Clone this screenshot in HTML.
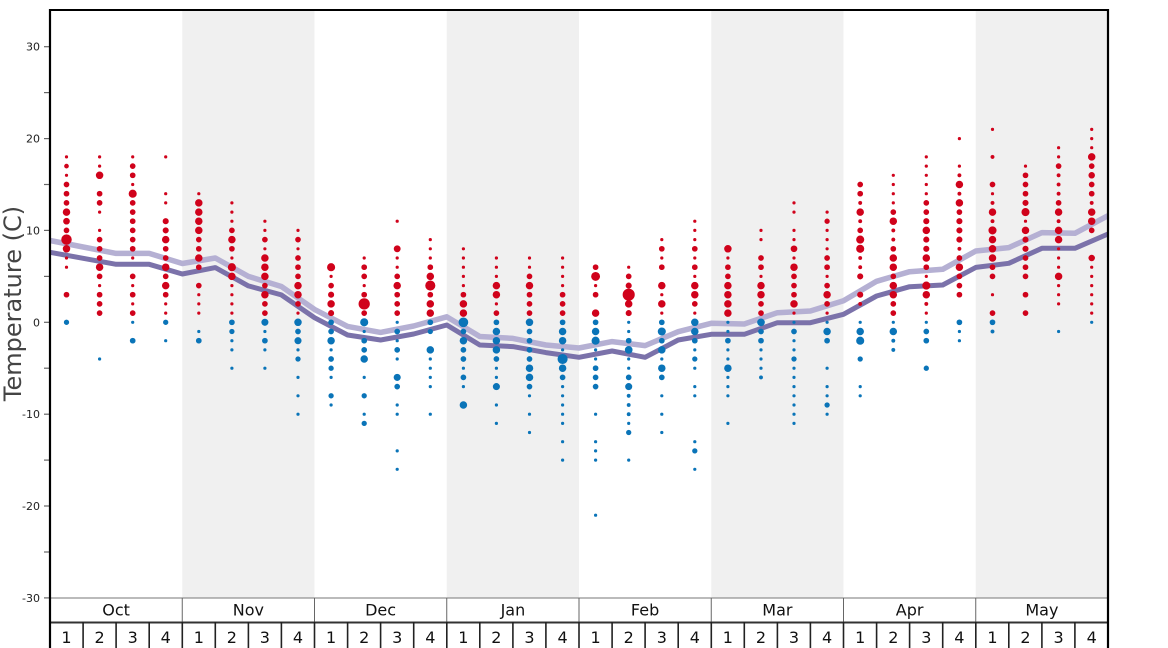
<!DOCTYPE html>
<html><head><meta charset="utf-8"><style>
html,body{margin:0;padding:0;background:#fff;}
svg{display:block;}
circle{fill:#d0021b;stroke:#d0021b;stroke-width:0.9;}
circle.b{fill:#0a74b8;stroke:#0a74b8;}
circle[r="1.6"]{stroke-width:0;}
circle[r="1.8"]{stroke-width:0.4;}
text{font-family:"DejaVu Sans","Liberation Sans",sans-serif;}
</style></head><body>
<svg width="1168" height="648" viewBox="0 0 1168 648" xmlns="http://www.w3.org/2000/svg">
<rect x="0" y="0" width="1168" height="648" fill="#fff"/>
<!-- shading -->
<g fill="#f0f0f0">
<rect x="182.25" y="10" width="132.25" height="588"/>
<rect x="446.75" y="10" width="132.25" height="588"/>
<rect x="711.25" y="10" width="132.25" height="588"/>
<rect x="975.75" y="10" width="132.25" height="588"/>
</g>
<!-- lines -->
<polyline fill="none" stroke="#b5b0d3" stroke-width="5.5" stroke-linejoin="round" points="50,240.5 83.1,247 116.1,253.4 149.2,253.4 182.3,263.5 215.3,258 248.4,276.4 281.4,286.5 314.5,309.4 347.6,326.4 380.6,332.4 413.7,326 446.8,316.8 479.8,336.5 512.9,338.4 545.9,345 579,348 612.1,341.6 645.1,345.6 678.2,331.7 711.3,323.3 744.3,324 777.4,312.7 810.4,311 843.5,300.7 876.6,281.3 909.6,271.7 942.7,269.3 975.8,251 1008.8,247.6 1041.9,232.6 1074.9,233.3 1108,215.7"/>
<polyline fill="none" stroke="#7b72aa" stroke-width="5" stroke-linejoin="round" points="50,252.3 83.1,258.3 116.1,264.3 149.2,264.3 182.3,274 215.3,267.6 248.4,285.9 281.4,294.9 314.5,317.7 347.6,335 380.6,340 413.7,334 446.8,325 479.8,345 512.9,346.6 545.9,352.6 579,357.3 612.1,351 645.1,357.3 678.2,340 711.3,334.3 744.3,334.3 777.4,322.7 810.4,322.7 843.5,314.3 876.6,296 909.6,286.7 942.7,285 975.8,267.4 1008.8,263.3 1041.9,248.3 1074.9,248.3 1108,234"/>

<!-- dots -->
<g transform="translate(66.5 0)"><circle cy="156.9" r="1.6"/><circle cy="166.1" r="1.9"/><circle cy="175.3" r="1.6"/><circle cy="184.5" r="2.4"/><circle cy="193.7" r="2.4"/><circle cy="202.9" r="2.4"/><circle cy="212.1" r="3.3"/><circle cy="221.2" r="2.9"/><circle cy="230.4" r="2.4"/><circle cy="239.6" r="4.8"/><circle cy="248.8" r="3.3"/><circle cy="258" r="1.6"/><circle cy="267.2" r="1.6"/><circle cy="294.7" r="2.4"/><circle class="b" cy="322.3" r="2.2"/></g>
<g transform="translate(99.6 0)"><circle cy="156.9" r="1.6"/><circle cy="166.1" r="1.6"/><circle cy="175.3" r="3.3"/><circle cy="193.7" r="2.4"/><circle cy="202.9" r="2.4"/><circle cy="212.1" r="1.6"/><circle cy="230.4" r="1.6"/><circle cy="239.6" r="2.4"/><circle cy="248.8" r="2.4"/><circle cy="258" r="2.4"/><circle cy="267.2" r="3.3"/><circle cy="276.4" r="2.4"/><circle cy="285.6" r="1.6"/><circle cy="294.7" r="2.4"/><circle cy="303.9" r="2.4"/><circle cy="313.1" r="2.4"/><circle class="b" cy="359" r="1.6"/></g>
<g transform="translate(132.7 0)"><circle cy="156.9" r="1.6"/><circle cy="166.1" r="2.4"/><circle cy="175.3" r="2.4"/><circle cy="184.5" r="1.6"/><circle cy="193.7" r="3.6"/><circle cy="202.9" r="2.4"/><circle cy="212.1" r="2.4"/><circle cy="221.2" r="2.4"/><circle cy="230.4" r="2.4"/><circle cy="239.6" r="2.4"/><circle cy="248.8" r="2.4"/><circle cy="258" r="1.6"/><circle cy="276.4" r="2.4"/><circle cy="285.6" r="1.6"/><circle cy="294.7" r="2.4"/><circle cy="303.9" r="1.6"/><circle cy="313.1" r="2.4"/><circle class="b" cy="322.3" r="1.6"/><circle class="b" cy="340.7" r="2.4"/></g>
<g transform="translate(165.7 0)"><circle cy="156.9" r="1.6"/><circle cy="193.7" r="1.6"/><circle cy="202.9" r="1.6"/><circle cy="221.2" r="2.6"/><circle cy="230.4" r="2.6"/><circle cy="239.6" r="3.3"/><circle cy="248.8" r="2.4"/><circle cy="258" r="2.4"/><circle cy="267.2" r="3.3"/><circle cy="276.4" r="2.4"/><circle cy="285.6" r="3.3"/><circle cy="294.7" r="2.4"/><circle cy="303.9" r="1.6"/><circle cy="313.1" r="1.6"/><circle class="b" cy="322.3" r="2.2"/><circle class="b" cy="340.7" r="1.6"/></g>
<g transform="translate(198.8 0)"><circle cy="193.7" r="1.6"/><circle cy="202.9" r="3.3"/><circle cy="212.1" r="3.3"/><circle cy="221.2" r="3.3"/><circle cy="230.4" r="3.3"/><circle cy="239.6" r="2.4"/><circle cy="248.8" r="2.4"/><circle cy="258" r="3.3"/><circle cy="267.2" r="2.4"/><circle cy="285.6" r="2.4"/><circle cy="294.7" r="1.6"/><circle cy="303.9" r="1.6"/><circle cy="313.1" r="1.6"/><circle class="b" cy="331.5" r="1.6"/><circle class="b" cy="340.7" r="2.4"/></g>
<g transform="translate(231.9 0)"><circle cy="202.9" r="1.6"/><circle cy="212.1" r="1.6"/><circle cy="221.2" r="1.6"/><circle cy="230.4" r="2.4"/><circle cy="239.6" r="3.3"/><circle cy="248.8" r="2.4"/><circle cy="258" r="1.6"/><circle cy="267.2" r="3.6"/><circle cy="276.4" r="3.3"/><circle cy="285.6" r="1.6"/><circle cy="294.7" r="1.6"/><circle cy="303.9" r="1.6"/><circle cy="313.1" r="1.6"/><circle class="b" cy="322.3" r="2.4"/><circle class="b" cy="331.5" r="2.2"/><circle class="b" cy="340.7" r="1.6"/><circle class="b" cy="349.9" r="1.6"/><circle class="b" cy="368.2" r="1.6"/></g>
<g transform="translate(264.9 0)"><circle cy="221.2" r="1.6"/><circle cy="230.4" r="1.6"/><circle cy="239.6" r="2.4"/><circle cy="248.8" r="1.6"/><circle cy="258" r="3.3"/><circle cy="267.2" r="3.3"/><circle cy="276.4" r="3.3"/><circle cy="285.6" r="2.4"/><circle cy="294.7" r="3.3"/><circle cy="303.9" r="2.4"/><circle cy="313.1" r="2.4"/><circle class="b" cy="322.3" r="3.1"/><circle class="b" cy="331.5" r="1.6"/><circle class="b" cy="340.7" r="2.4"/><circle class="b" cy="349.9" r="1.6"/><circle class="b" cy="368.2" r="1.6"/></g>
<g transform="translate(298 0)"><circle cy="230.4" r="1.6"/><circle cy="239.6" r="2.4"/><circle cy="248.8" r="1.6"/><circle cy="258" r="2.4"/><circle cy="267.2" r="2.4"/><circle cy="276.4" r="2.4"/><circle cy="285.6" r="3.3"/><circle cy="294.7" r="3.3"/><circle cy="303.9" r="2.4"/><circle cy="313.1" r="1.6"/><circle class="b" cy="322.3" r="3.3"/><circle class="b" cy="331.5" r="2.4"/><circle class="b" cy="340.7" r="3.1"/><circle class="b" cy="349.9" r="1.6"/><circle class="b" cy="359" r="2.2"/><circle class="b" cy="377.4" r="1.6"/><circle class="b" cy="395.8" r="1.6"/><circle class="b" cy="414.2" r="1.6"/></g>
<g transform="translate(331.1 0)"><circle cy="267.2" r="3.6"/><circle cy="276.4" r="1.6"/><circle cy="285.6" r="2.4"/><circle cy="294.7" r="2.6"/><circle cy="303.9" r="3.3"/><circle cy="313.1" r="2.6"/><circle class="b" cy="322.3" r="2.4"/><circle class="b" cy="331.5" r="2.4"/><circle class="b" cy="340.7" r="3.3"/><circle class="b" cy="349.9" r="1.6"/><circle class="b" cy="359" r="2.4"/><circle class="b" cy="368.2" r="2.2"/><circle class="b" cy="377.4" r="1.6"/><circle class="b" cy="395.8" r="2.2"/><circle class="b" cy="405" r="1.6"/></g>
<g transform="translate(364.2 0)"><circle cy="258" r="1.6"/><circle cy="267.2" r="2.4"/><circle cy="276.4" r="2.4"/><circle cy="285.6" r="1.6"/><circle cy="294.7" r="2.4"/><circle cy="303.9" r="5.2"/><circle cy="313.1" r="2.4"/><circle class="b" cy="322.3" r="3.6"/><circle class="b" cy="331.5" r="1.6"/><circle class="b" cy="340.7" r="2.4"/><circle class="b" cy="349.9" r="2.4"/><circle class="b" cy="359" r="3.3"/><circle class="b" cy="377.4" r="1.6"/><circle class="b" cy="395.8" r="2.2"/><circle class="b" cy="414.2" r="1.6"/><circle class="b" cy="423.4" r="2.2"/></g>
<g transform="translate(397.2 0)"><circle cy="221.2" r="1.6"/><circle cy="248.8" r="3"/><circle cy="258" r="1.6"/><circle cy="267.2" r="1.6"/><circle cy="276.4" r="2.4"/><circle cy="285.6" r="3.3"/><circle cy="294.7" r="2.4"/><circle cy="303.9" r="2.4"/><circle cy="313.1" r="2.4"/><circle class="b" cy="322.3" r="1.6"/><circle class="b" cy="331.5" r="2.4"/><circle class="b" cy="340.7" r="1.6"/><circle class="b" cy="349.9" r="2.4"/><circle class="b" cy="359" r="1.6"/><circle class="b" cy="377.4" r="3.1"/><circle class="b" cy="386.6" r="2.4"/><circle class="b" cy="405" r="1.6"/><circle class="b" cy="414.2" r="1.6"/><circle class="b" cy="450.9" r="1.6"/><circle class="b" cy="469.3" r="1.6"/></g>
<g transform="translate(430.3 0)"><circle cy="239.6" r="1.6"/><circle cy="248.8" r="1.6"/><circle cy="258" r="1.6"/><circle cy="267.2" r="2.4"/><circle cy="276.4" r="3.3"/><circle cy="285.6" r="4.6"/><circle cy="294.7" r="2.4"/><circle cy="303.9" r="3.3"/><circle cy="313.1" r="3.3"/><circle class="b" cy="322.3" r="2.4"/><circle class="b" cy="331.5" r="2.2"/><circle class="b" cy="349.9" r="3.3"/><circle class="b" cy="359" r="1.6"/><circle class="b" cy="368.2" r="1.6"/><circle class="b" cy="377.4" r="1.6"/><circle class="b" cy="386.6" r="1.6"/><circle class="b" cy="414.2" r="1.6"/></g>
<g transform="translate(463.4 0)"><circle cy="248.8" r="1.6"/><circle cy="258" r="1.6"/><circle cy="267.2" r="1.6"/><circle cy="276.4" r="1.6"/><circle cy="285.6" r="1.6"/><circle cy="294.7" r="2.4"/><circle cy="303.9" r="3.3"/><circle cy="313.1" r="3.3"/><circle class="b" cy="322.3" r="4.4"/><circle class="b" cy="331.5" r="2.4"/><circle class="b" cy="340.7" r="3.3"/><circle class="b" cy="349.9" r="2.4"/><circle class="b" cy="359" r="2.4"/><circle class="b" cy="368.2" r="1.6"/><circle class="b" cy="377.4" r="2.4"/><circle class="b" cy="386.6" r="1.6"/><circle class="b" cy="405" r="3.3"/></g>
<g transform="translate(496.4 0)"><circle cy="258" r="1.6"/><circle cy="267.2" r="1.6"/><circle cy="276.4" r="1.6"/><circle cy="285.6" r="3.3"/><circle cy="294.7" r="3.3"/><circle cy="303.9" r="1.6"/><circle cy="313.1" r="2.4"/><circle class="b" cy="322.3" r="2.4"/><circle class="b" cy="331.5" r="3.3"/><circle class="b" cy="340.7" r="3.3"/><circle class="b" cy="349.9" r="3.3"/><circle class="b" cy="359" r="2.4"/><circle class="b" cy="368.2" r="1.6"/><circle class="b" cy="377.4" r="1.6"/><circle class="b" cy="386.6" r="3.1"/><circle class="b" cy="405" r="1.6"/><circle class="b" cy="423.4" r="1.6"/></g>
<g transform="translate(529.5 0)"><circle cy="258" r="1.6"/><circle cy="267.2" r="1.6"/><circle cy="276.4" r="2.4"/><circle cy="285.6" r="3.3"/><circle cy="294.7" r="2.4"/><circle cy="303.9" r="2.4"/><circle cy="313.1" r="2.4"/><circle class="b" cy="322.3" r="3.3"/><circle class="b" cy="331.5" r="2.4"/><circle class="b" cy="340.7" r="2.4"/><circle class="b" cy="349.9" r="2.4"/><circle class="b" cy="359" r="2.4"/><circle class="b" cy="368.2" r="3.3"/><circle class="b" cy="377.4" r="3.3"/><circle class="b" cy="386.6" r="2.4"/><circle class="b" cy="395.8" r="1.6"/><circle class="b" cy="414.2" r="1.6"/><circle class="b" cy="432.5" r="1.6"/></g>
<g transform="translate(562.6 0)"><circle cy="258" r="1.6"/><circle cy="267.2" r="1.6"/><circle cy="276.4" r="1.6"/><circle cy="285.6" r="1.6"/><circle cy="294.7" r="2.4"/><circle cy="303.9" r="2.4"/><circle cy="313.1" r="2.4"/><circle class="b" cy="322.3" r="2.4"/><circle class="b" cy="331.5" r="3.3"/><circle class="b" cy="340.7" r="3.3"/><circle class="b" cy="349.9" r="1.6"/><circle class="b" cy="359" r="4.6"/><circle class="b" cy="368.2" r="3.3"/><circle class="b" cy="377.4" r="2.4"/><circle class="b" cy="386.6" r="1.6"/><circle class="b" cy="395.8" r="1.6"/><circle class="b" cy="405" r="1.6"/><circle class="b" cy="414.2" r="1.6"/><circle class="b" cy="423.4" r="1.6"/><circle class="b" cy="441.7" r="1.6"/><circle class="b" cy="460.1" r="1.6"/></g>
<g transform="translate(595.6 0)"><circle cy="267.2" r="2.4"/><circle cy="276.4" r="4"/><circle cy="285.6" r="1.6"/><circle cy="294.7" r="2.4"/><circle cy="313.1" r="3.3"/><circle class="b" cy="322.3" r="2.4"/><circle class="b" cy="331.5" r="3.3"/><circle class="b" cy="340.7" r="3.6"/><circle class="b" cy="349.9" r="1.6"/><circle class="b" cy="359" r="1.6"/><circle class="b" cy="368.2" r="2.4"/><circle class="b" cy="377.4" r="2.4"/><circle class="b" cy="386.6" r="2.4"/><circle class="b" cy="414.2" r="1.6"/><circle class="b" cy="441.7" r="1.6"/><circle class="b" cy="450.9" r="1.6"/><circle class="b" cy="460.1" r="1.6"/><circle class="b" cy="515.2" r="1.6"/></g>
<g transform="translate(628.7 0)"><circle cy="267.2" r="1.6"/><circle cy="276.4" r="2.4"/><circle cy="285.6" r="2.6"/><circle cy="294.7" r="5.6"/><circle cy="303.9" r="3.3"/><circle cy="313.1" r="2.6"/><circle class="b" cy="322.3" r="1.6"/><circle class="b" cy="331.5" r="1.6"/><circle class="b" cy="340.7" r="2.4"/><circle class="b" cy="349.9" r="3.4"/><circle class="b" cy="359" r="1.6"/><circle class="b" cy="368.2" r="1.6"/><circle class="b" cy="377.4" r="2.4"/><circle class="b" cy="386.6" r="3.1"/><circle class="b" cy="395.8" r="1.8"/><circle class="b" cy="405" r="1.8"/><circle class="b" cy="414.2" r="1.8"/><circle class="b" cy="423.4" r="1.6"/><circle class="b" cy="432.5" r="2.2"/><circle class="b" cy="460.1" r="1.6"/></g>
<g transform="translate(661.8 0)"><circle cy="239.6" r="1.6"/><circle cy="248.8" r="2.4"/><circle cy="258" r="1.6"/><circle cy="267.2" r="2.4"/><circle cy="285.6" r="3.3"/><circle cy="294.7" r="1.6"/><circle cy="303.9" r="3.3"/><circle cy="313.1" r="1.6"/><circle class="b" cy="322.3" r="2.4"/><circle class="b" cy="331.5" r="3.6"/><circle class="b" cy="340.7" r="2.4"/><circle class="b" cy="349.9" r="3.3"/><circle class="b" cy="359" r="1.6"/><circle class="b" cy="368.2" r="3.3"/><circle class="b" cy="377.4" r="2.4"/><circle class="b" cy="395.8" r="1.6"/><circle class="b" cy="414.2" r="1.6"/><circle class="b" cy="432.5" r="1.6"/></g>
<g transform="translate(694.8 0)"><circle cy="221.2" r="1.6"/><circle cy="230.4" r="1.6"/><circle cy="239.6" r="1.6"/><circle cy="248.8" r="2.4"/><circle cy="258" r="1.6"/><circle cy="267.2" r="2.4"/><circle cy="276.4" r="1.6"/><circle cy="285.6" r="3.3"/><circle cy="294.7" r="3.3"/><circle cy="303.9" r="2.4"/><circle cy="313.1" r="1.6"/><circle class="b" cy="322.3" r="3.3"/><circle class="b" cy="331.5" r="3.3"/><circle class="b" cy="340.7" r="2.4"/><circle class="b" cy="349.9" r="1.6"/><circle class="b" cy="359" r="2.2"/><circle class="b" cy="368.2" r="1.6"/><circle class="b" cy="386.6" r="1.6"/><circle class="b" cy="395.8" r="1.6"/><circle class="b" cy="441.7" r="1.6"/><circle class="b" cy="450.9" r="2.2"/><circle class="b" cy="469.3" r="1.6"/></g>
<g transform="translate(727.9 0)"><circle cy="248.8" r="3.3"/><circle cy="258" r="1.6"/><circle cy="267.2" r="2.4"/><circle cy="276.4" r="2.4"/><circle cy="285.6" r="3.3"/><circle cy="294.7" r="3.3"/><circle cy="303.9" r="3.3"/><circle cy="313.1" r="3.3"/><circle class="b" cy="322.3" r="1.6"/><circle class="b" cy="331.5" r="1.6"/><circle class="b" cy="340.7" r="2.4"/><circle class="b" cy="349.9" r="1.6"/><circle class="b" cy="359" r="1.6"/><circle class="b" cy="368.2" r="3.3"/><circle class="b" cy="377.4" r="1.6"/><circle class="b" cy="386.6" r="1.6"/><circle class="b" cy="395.8" r="1.6"/><circle class="b" cy="423.4" r="1.6"/></g>
<g transform="translate(761 0)"><circle cy="230.4" r="1.6"/><circle cy="239.6" r="1.6"/><circle cy="258" r="2.4"/><circle cy="267.2" r="2.4"/><circle cy="276.4" r="1.6"/><circle cy="285.6" r="3.3"/><circle cy="294.7" r="3.3"/><circle cy="303.9" r="2.4"/><circle cy="313.1" r="2.4"/><circle class="b" cy="322.3" r="3.4"/><circle class="b" cy="331.5" r="2.4"/><circle class="b" cy="340.7" r="2.4"/><circle class="b" cy="349.9" r="1.6"/><circle class="b" cy="359" r="1.6"/><circle class="b" cy="368.2" r="1.6"/><circle class="b" cy="377.4" r="1.8"/></g>
<g transform="translate(794 0)"><circle cy="202.9" r="1.6"/><circle cy="212.1" r="1.6"/><circle cy="230.4" r="1.6"/><circle cy="239.6" r="1.6"/><circle cy="248.8" r="2.9"/><circle cy="258" r="1.6"/><circle cy="267.2" r="3.3"/><circle cy="276.4" r="2.4"/><circle cy="285.6" r="2.4"/><circle cy="294.7" r="2.4"/><circle cy="303.9" r="3.3"/><circle cy="313.1" r="1.6"/><circle class="b" cy="322.3" r="1.6"/><circle class="b" cy="331.5" r="2.4"/><circle class="b" cy="340.7" r="1.6"/><circle class="b" cy="349.9" r="1.6"/><circle class="b" cy="359" r="2.2"/><circle class="b" cy="368.2" r="1.6"/><circle class="b" cy="377.4" r="1.6"/><circle class="b" cy="386.6" r="1.6"/><circle class="b" cy="395.8" r="1.6"/><circle class="b" cy="405" r="1.6"/><circle class="b" cy="414.2" r="1.6"/><circle class="b" cy="423.4" r="1.6"/></g>
<g transform="translate(827.1 0)"><circle cy="212.1" r="1.6"/><circle cy="221.2" r="2.2"/><circle cy="230.4" r="1.6"/><circle cy="239.6" r="1.6"/><circle cy="248.8" r="1.6"/><circle cy="258" r="2.4"/><circle cy="267.2" r="2.4"/><circle cy="276.4" r="1.6"/><circle cy="285.6" r="2.4"/><circle cy="294.7" r="3.3"/><circle cy="303.9" r="2.4"/><circle cy="313.1" r="1.6"/><circle class="b" cy="322.3" r="1.6"/><circle class="b" cy="331.5" r="3.3"/><circle class="b" cy="340.7" r="2.4"/><circle class="b" cy="368.2" r="1.6"/><circle class="b" cy="386.6" r="1.6"/><circle class="b" cy="395.8" r="1.6"/><circle class="b" cy="405" r="2.2"/><circle class="b" cy="414.2" r="1.6"/></g>
<g transform="translate(860.2 0)"><circle cy="184.5" r="2.4"/><circle cy="193.7" r="2.4"/><circle cy="202.9" r="1.8"/><circle cy="212.1" r="3.3"/><circle cy="221.2" r="1.8"/><circle cy="230.4" r="2.4"/><circle cy="239.6" r="3.6"/><circle cy="248.8" r="3.6"/><circle cy="258" r="1.8"/><circle cy="267.2" r="1.8"/><circle cy="276.4" r="2.6"/><circle cy="294.7" r="2.6"/><circle cy="303.9" r="1.8"/><circle class="b" cy="322.3" r="1.6"/><circle class="b" cy="331.5" r="3.3"/><circle class="b" cy="340.7" r="3.6"/><circle class="b" cy="359" r="2.2"/><circle class="b" cy="386.6" r="1.6"/><circle class="b" cy="395.8" r="1.6"/></g>
<g transform="translate(893.3 0)"><circle cy="175.3" r="1.6"/><circle cy="184.5" r="1.6"/><circle cy="193.7" r="1.6"/><circle cy="202.9" r="1.6"/><circle cy="212.1" r="2.4"/><circle cy="221.2" r="3.3"/><circle cy="230.4" r="1.8"/><circle cy="239.6" r="1.8"/><circle cy="248.8" r="2.4"/><circle cy="258" r="3.3"/><circle cy="267.2" r="3.3"/><circle cy="276.4" r="2.4"/><circle cy="285.6" r="3.3"/><circle cy="294.7" r="3.3"/><circle cy="303.9" r="2.4"/><circle cy="313.1" r="2.4"/><circle class="b" cy="322.3" r="1.6"/><circle class="b" cy="331.5" r="3.3"/><circle class="b" cy="340.7" r="1.8"/><circle class="b" cy="349.9" r="1.8"/></g>
<g transform="translate(926.3 0)"><circle cy="156.9" r="1.6"/><circle cy="166.1" r="1.6"/><circle cy="175.3" r="1.6"/><circle cy="184.5" r="1.6"/><circle cy="193.7" r="1.6"/><circle cy="202.9" r="2.4"/><circle cy="212.1" r="2.4"/><circle cy="221.2" r="2.6"/><circle cy="230.4" r="3.3"/><circle cy="239.6" r="2.6"/><circle cy="248.8" r="2.6"/><circle cy="258" r="3.3"/><circle cy="267.2" r="2.4"/><circle cy="276.4" r="1.6"/><circle cy="285.6" r="3.6"/><circle cy="294.7" r="3.3"/><circle cy="303.9" r="1.8"/><circle cy="313.1" r="1.6"/><circle class="b" cy="322.3" r="1.6"/><circle class="b" cy="331.5" r="2.4"/><circle class="b" cy="340.7" r="2.4"/><circle class="b" cy="368.2" r="2.2"/></g>
<g transform="translate(959.4 0)"><circle cy="138.6" r="1.6"/><circle cy="166.1" r="1.6"/><circle cy="175.3" r="1.8"/><circle cy="184.5" r="3.3"/><circle cy="193.7" r="1.8"/><circle cy="202.9" r="3.3"/><circle cy="212.1" r="2.4"/><circle cy="221.2" r="2.6"/><circle cy="230.4" r="2.6"/><circle cy="239.6" r="2.6"/><circle cy="248.8" r="1.8"/><circle cy="258" r="2.4"/><circle cy="267.2" r="3.3"/><circle cy="276.4" r="2.4"/><circle cy="285.6" r="2.4"/><circle cy="294.7" r="2.4"/><circle class="b" cy="322.3" r="2.4"/><circle class="b" cy="331.5" r="1.6"/><circle class="b" cy="340.7" r="1.6"/></g>
<g transform="translate(992.5 0)"><circle cy="129.4" r="1.6"/><circle cy="156.9" r="1.8"/><circle cy="184.5" r="2.4"/><circle cy="193.7" r="1.6"/><circle cy="202.9" r="1.8"/><circle cy="212.1" r="3.3"/><circle cy="221.2" r="1.8"/><circle cy="230.4" r="3.6"/><circle cy="239.6" r="3.3"/><circle cy="248.8" r="3.3"/><circle cy="258" r="3.3"/><circle cy="267.2" r="2.4"/><circle cy="276.4" r="2.4"/><circle cy="294.7" r="1.6"/><circle cy="313.1" r="2.4"/><circle class="b" cy="322.3" r="2.4"/><circle class="b" cy="331.5" r="1.8"/></g>
<g transform="translate(1025.5 0)"><circle cy="166.1" r="1.6"/><circle cy="175.3" r="2.4"/><circle cy="184.5" r="2.4"/><circle cy="193.7" r="2.4"/><circle cy="202.9" r="2.6"/><circle cy="212.1" r="3.6"/><circle cy="221.2" r="1.6"/><circle cy="230.4" r="3.3"/><circle cy="239.6" r="2.6"/><circle cy="248.8" r="2.6"/><circle cy="258" r="2.4"/><circle cy="267.2" r="2.4"/><circle cy="276.4" r="2.4"/><circle cy="294.7" r="2.4"/><circle cy="313.1" r="2.4"/></g>
<g transform="translate(1058.6 0)"><circle cy="147.7" r="1.6"/><circle cy="156.9" r="1.6"/><circle cy="166.1" r="2.4"/><circle cy="175.3" r="1.8"/><circle cy="184.5" r="1.8"/><circle cy="193.7" r="1.8"/><circle cy="202.9" r="2.4"/><circle cy="212.1" r="3.3"/><circle cy="221.2" r="1.8"/><circle cy="230.4" r="3.3"/><circle cy="239.6" r="3.3"/><circle cy="248.8" r="1.6"/><circle cy="258" r="1.6"/><circle cy="267.2" r="1.6"/><circle cy="276.4" r="3.3"/><circle cy="285.6" r="1.6"/><circle cy="294.7" r="1.6"/><circle cy="303.9" r="1.6"/><circle class="b" cy="331.5" r="1.6"/></g>
<g transform="translate(1091.7 0)"><circle cy="129.4" r="1.6"/><circle cy="138.6" r="1.6"/><circle cy="147.7" r="1.6"/><circle cy="156.9" r="3.3"/><circle cy="166.1" r="2.4"/><circle cy="175.3" r="2.8"/><circle cy="184.5" r="2.4"/><circle cy="193.7" r="2.4"/><circle cy="202.9" r="1.8"/><circle cy="212.1" r="3.3"/><circle cy="221.2" r="3.3"/><circle cy="230.4" r="2.4"/><circle cy="258" r="2.8"/><circle cy="267.2" r="1.6"/><circle cy="276.4" r="1.6"/><circle cy="285.6" r="1.6"/><circle cy="294.7" r="1.6"/><circle cy="303.9" r="1.6"/><circle cy="313.1" r="1.6"/><circle class="b" cy="322.3" r="1.6"/></g>

<!-- y axis ticks -->
<g stroke="#666" stroke-width="1.2">
<line x1="44" y1="46.7" x2="50" y2="46.7"/><line x1="44" y1="92.6" x2="50" y2="92.6"/>
<line x1="44" y1="138.6" x2="50" y2="138.6"/><line x1="44" y1="184.5" x2="50" y2="184.5"/>
<line x1="44" y1="230.4" x2="50" y2="230.4"/><line x1="44" y1="276.4" x2="50" y2="276.4"/>
<line x1="44" y1="322.3" x2="50" y2="322.3"/><line x1="44" y1="368.2" x2="50" y2="368.2"/>
<line x1="44" y1="414.2" x2="50" y2="414.2"/><line x1="44" y1="460.1" x2="50" y2="460.1"/>
<line x1="44" y1="506" x2="50" y2="506"/><line x1="44" y1="552" x2="50" y2="552"/>
<line x1="44" y1="597.9" x2="50" y2="597.9"/>
</g>
<g font-size="11" fill="#222" text-anchor="end">
<text x="40" y="50.7">30</text>
<text x="40" y="142.6">20</text>
<text x="40" y="234.4">10</text>
<text x="40" y="326.3">0</text>
<text x="40" y="418.2">-10</text>
<text x="40" y="510">-20</text>
<text x="40" y="601.9">-30</text>
</g>
<text transform="translate(21 303.5) rotate(-90)" font-size="24" fill="#444" text-anchor="middle">Temperature (C)</text>

<!-- x axis boxes -->
<line x1="50" y1="598" x2="1108" y2="598" stroke="#777" stroke-width="1"/>
<g stroke="#666" stroke-width="1">
<line x1="182.25" y1="598" x2="182.25" y2="622"/>
<line x1="314.5" y1="598" x2="314.5" y2="622"/>
<line x1="446.75" y1="598" x2="446.75" y2="622"/>
<line x1="579" y1="598" x2="579" y2="622"/>
<line x1="711.25" y1="598" x2="711.25" y2="622"/>
<line x1="843.5" y1="598" x2="843.5" y2="622"/>
<line x1="975.75" y1="598" x2="975.75" y2="622"/>
</g>
<line x1="50" y1="622.5" x2="1108" y2="622.5" stroke="#333" stroke-width="2"/>
<g stroke="#222" stroke-width="1.6">
<line x1="83.1" y1="622" x2="83.1" y2="648"/><line x1="116.1" y1="622" x2="116.1" y2="648"/><line x1="149.2" y1="622" x2="149.2" y2="648"/><line x1="182.3" y1="622" x2="182.3" y2="648"/>
<line x1="215.3" y1="622" x2="215.3" y2="648"/><line x1="248.4" y1="622" x2="248.4" y2="648"/><line x1="281.4" y1="622" x2="281.4" y2="648"/><line x1="314.5" y1="622" x2="314.5" y2="648"/>
<line x1="347.6" y1="622" x2="347.6" y2="648"/><line x1="380.6" y1="622" x2="380.6" y2="648"/><line x1="413.7" y1="622" x2="413.7" y2="648"/><line x1="446.8" y1="622" x2="446.8" y2="648"/>
<line x1="479.8" y1="622" x2="479.8" y2="648"/><line x1="512.9" y1="622" x2="512.9" y2="648"/><line x1="545.9" y1="622" x2="545.9" y2="648"/><line x1="579" y1="622" x2="579" y2="648"/>
<line x1="612.1" y1="622" x2="612.1" y2="648"/><line x1="645.1" y1="622" x2="645.1" y2="648"/><line x1="678.2" y1="622" x2="678.2" y2="648"/><line x1="711.3" y1="622" x2="711.3" y2="648"/>
<line x1="744.3" y1="622" x2="744.3" y2="648"/><line x1="777.4" y1="622" x2="777.4" y2="648"/><line x1="810.4" y1="622" x2="810.4" y2="648"/><line x1="843.5" y1="622" x2="843.5" y2="648"/>
<line x1="876.6" y1="622" x2="876.6" y2="648"/><line x1="909.6" y1="622" x2="909.6" y2="648"/><line x1="942.7" y1="622" x2="942.7" y2="648"/><line x1="975.8" y1="622" x2="975.8" y2="648"/>
<line x1="1008.8" y1="622" x2="1008.8" y2="648"/><line x1="1041.9" y1="622" x2="1041.9" y2="648"/><line x1="1074.9" y1="622" x2="1074.9" y2="648"/>
</g>
<g font-size="16" fill="#111" text-anchor="middle">
<text x="116.1" y="615.5">Oct</text>
<text x="248.4" y="615.5">Nov</text>
<text x="380.6" y="615.5">Dec</text>
<text x="512.9" y="615.5">Jan</text>
<text x="645.1" y="615.5">Feb</text>
<text x="777.4" y="615.5">Mar</text>
<text x="909.6" y="615.5">Apr</text>
<text x="1041.9" y="615.5">May</text>
</g>
<g font-size="16" fill="#111" text-anchor="middle">
<text x="66.5" y="643">1</text><text x="99.6" y="643">2</text><text x="132.7" y="643">3</text><text x="165.7" y="643">4</text>
<text x="198.8" y="643">1</text><text x="231.9" y="643">2</text><text x="264.9" y="643">3</text><text x="298" y="643">4</text>
<text x="331.1" y="643">1</text><text x="364.2" y="643">2</text><text x="397.2" y="643">3</text><text x="430.3" y="643">4</text>
<text x="463.4" y="643">1</text><text x="496.4" y="643">2</text><text x="529.5" y="643">3</text><text x="562.6" y="643">4</text>
<text x="595.6" y="643">1</text><text x="628.7" y="643">2</text><text x="661.8" y="643">3</text><text x="694.8" y="643">4</text>
<text x="727.9" y="643">1</text><text x="761" y="643">2</text><text x="794" y="643">3</text><text x="827.1" y="643">4</text>
<text x="860.2" y="643">1</text><text x="893.3" y="643">2</text><text x="926.3" y="643">3</text><text x="959.4" y="643">4</text>
<text x="992.5" y="643">1</text><text x="1025.5" y="643">2</text><text x="1058.6" y="643">3</text><text x="1091.7" y="643">4</text>
</g>

<!-- frame -->
<line x1="49" y1="10" x2="1109" y2="10" stroke="#000" stroke-width="2"/>
<line x1="50" y1="9" x2="50" y2="648" stroke="#000" stroke-width="2.2"/>
<line x1="1108" y1="9" x2="1108" y2="648" stroke="#000" stroke-width="2.2"/>
</svg>
</body></html>
